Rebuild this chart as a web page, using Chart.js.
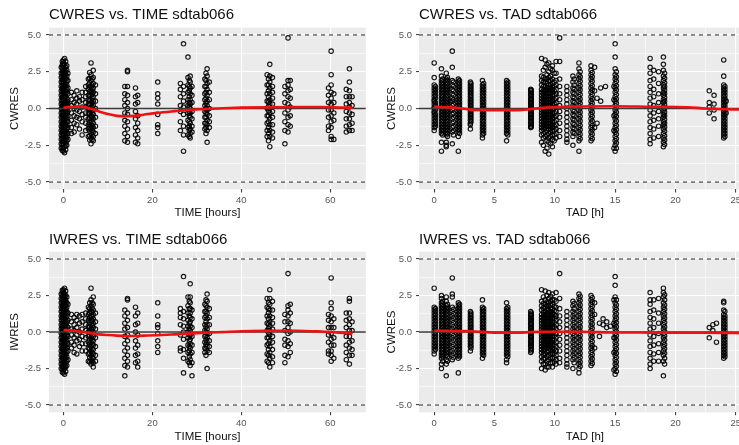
<!DOCTYPE html>
<html>
<head>
<meta charset="utf-8">
<script src="https://cdn.jsdelivr.net/npm/chart.js@4.4.0/dist/chart.umd.min.js"></script>
<style>
  html, body { margin: 0; padding: 0; background: #fff; overflow: hidden; }
  #wrap { position: relative; width: 739px; height: 445px; overflow: hidden; }
  canvas { position: absolute; }
</style>
</head>
<body>
<div id="wrap">
  <canvas id="cwresTimeChart" width="371" height="222" style="left:0;top:0"></canvas>
  <canvas id="cwresTadChart" width="385" height="222" style="left:371px;top:0"></canvas>
  <canvas id="iwresTimeChart" width="371" height="223" style="left:0;top:222px"></canvas>
  <canvas id="iwresTadChart" width="385" height="223" style="left:371px;top:222px"></canvas>
</div>
<script>
const FONT = "'Liberation Sans', Arial, sans-serif";

// axis breaks
const yMajor = [-5, -2.5, 0, 2.5, 5];
const yMinor = [-3.75, -1.25, 1.25, 3.75];
const timeMajor = [0, 20, 40, 60];
const timeMinor = [10, 30, 50];
const tadMajor = [0, 5, 10, 15, 20, 25];
const tadMinor = [2.5, 7.5, 12.5, 17.5, 22.5];
const timeRange = [-3.25, 68];
const tadRange = [-1.26, 26.25];
const yRange = [-5.5, 5.5];
const refLines = [-5, 5];

// CWRES vs TIME: [time, [residuals observed at that time]]
const cwresTime = [
  [-0.5, [2.8,2.4,2.1,1.8,1.5,1.2,0.9,0.6,0.3,0.0,-0.3,-0.6,-0.9,-1.2,-1.5,-1.8,-2.1,-2.4,-2.7]],
  [-0.25, [3.2,2.95,2.75,2.55,2.35,2.15,1.95,1.75,1.55,1.35,1.15,0.95,0.75,0.55,0.35,0.15,-0.05,-0.25,-0.45,-0.65,-0.85,-1.05,-1.25,-1.45,-1.65,-1.85,-2.05,-2.25,-2.45,-2.65,-2.85]],
  [0.0, [3.3,3.1,2.9,2.6,2.4,2.2,2.0,1.8,1.7,1.5,1.3,1.1,1.0,0.8,0.6,0.5,0.3,0.1,0.0,-0.2,-0.3,-0.5,-0.7,-0.8,-1.0,-1.2,-1.3,-1.5,-1.7,-1.8,-2.0,-2.2,-2.4,-2.7,-2.9]],
  [0.25, [3.4,3.0,2.7,2.5,2.3,2.1,1.9,1.6,1.4,1.2,0.9,0.7,0.4,0.2,-0.1,-0.4,-0.6,-0.9,-1.1,-1.4,-1.6,-1.9,-2.1,-2.3,-2.6,-3.0]],
  [0.5, [3.2,2.8,2.5,2.3,2.0,1.7,1.5,1.2,1.0,0.8,0.5,0.3,0.0,-0.2,-0.5,-0.7,-1.0,-1.2,-1.5,-1.7,-2.0,-2.3,-2.5,-2.8]],
  [0.75, [2.9,2.6,2.2,1.9,1.6,1.3,1.1,0.7,0.4,0.2,-0.1,-0.3,-0.6,-0.9,-1.1,-1.4,-1.6,-1.9,-2.2,-2.5]],
  [1.0, [2.4,1.9,1.4,1.0,0.6,0.3,-0.2,-0.5,-0.9,-1.3,-1.7,-2.1]],
  [1.8, [1.1,0.6,0.2,-0.3,-0.8,-1.3,-1.7]],
  [2.4, [0.9,0.4,0.0,-0.5,-1.0,-1.6]],
  [3.0, [1.2,0.7,0.3,-0.1,-0.6,-1.1]],
  [3.6, [0.8,0.5,-0.2,-0.7,-1.4]],
  [4.2, [1.1,0.6,0.1,-0.4,-0.9,-1.8]],
  [5.0, [1.5,1.1,0.8,0.4,0.1,-0.3,-0.6,-1.0,-1.5]],
  [5.6, [2.0,1.6,1.3,0.9,0.6,0.3,0.0,-0.3,-0.7,-1.1,-1.4,-1.9]],
  [5.9, [2.45,2.05,1.75,1.45,1.15,0.85,0.55,0.25,-0.05,-0.35,-0.65,-0.95,-1.25,-1.55,-1.85,-2.15]],
  [6.2, [3.1,2.3,1.9,1.5,1.2,0.9,0.6,0.3,0.0,-0.2,-0.5,-0.8,-1.1,-1.4,-1.7,-2.0,-2.4]],
  [6.45, [2.0,1.6,1.3,1.0,0.7,0.4,0.1,-0.3,-0.6,-0.9,-1.2,-1.5,-1.8,-2.1]],
  [6.7, [2.6,2.1,1.7,1.4,1.1,0.8,0.5,0.2,-0.1,-0.4,-0.7,-1.0,-1.3,-1.6,-1.9,-2.2]],
  [7.2, [1.6,1.0,0.5,0.0,-0.6,-1.2,-1.7]],
  [13.8, [1.5,1.0,0.6,0.2,-0.3,-0.8,-1.2,-1.7,-2.2]],
  [14.4, [2.6,2.5,1.5,0.9,0.4,0.0,-0.4,-0.9,-1.4,-1.9,-2.3]],
  [16.2, [1.4,0.8,0.3,-0.2,-0.7,-1.3,-1.8,-2.3]],
  [16.7, [0.9,0.4,-0.5,-1.0,-1.5,-2.0,-2.4]],
  [21.2, [1.8,1.0,0.7,0.3,-0.4,-1.1,-1.3,-1.7]],
  [26.3, [1.7,1.3,0.8,0.2,-0.2,-0.9,-1.5]],
  [27.0, [4.4,1.5,1.0,0.5,0.1,-0.4,-1.2,-1.8,-2.9]],
  [28.0, [3.5,2.1,1.6,1.1,0.6,0.2,-0.3,-0.8,-1.3,-1.8]],
  [28.3, [1.9,1.5,1.2,0.8,0.4,0.1,-0.2,-0.5,-0.9,-1.2,-1.5,-1.9]],
  [28.5, [2.2,1.8,1.4,1.0,0.6,0.3,0.0,-0.3,-0.6,-1.0,-1.4,-1.7,-2.0]],
  [28.9, [1.5,0.9,0.4,-0.2,-0.7,-1.2,-1.6]],
  [31.8, [2.0,1.5,1.0,0.6,0.2,-0.2,-0.6,-1.0,-1.4]],
  [32.05, [2.4,1.9,1.5,1.1,0.7,0.35,0.0,-0.3,-0.6,-1.0,-1.3,-1.7]],
  [32.3, [2.7,2.2,1.7,1.3,0.9,0.5,0.2,-0.1,-0.4,-0.8,-1.1,-1.5,-2.3]],
  [32.8, [1.8,1.1,0.6,0.0,-0.5,-0.9,-1.3]],
  [45.8, [2.3,1.6,1.0,0.5,0.0,-0.5,-1.0,-1.5,-1.9]],
  [46.1, [2.0,1.6,1.2,0.8,0.45,0.15,-0.15,-0.5,-0.9,-1.3,-1.7,-2.2]],
  [46.4, [3.0,2.2,1.8,1.4,1.0,0.6,0.3,0.0,-0.3,-0.7,-1.1,-1.5,-1.9,-2.6]],
  [47.0, [2.1,1.5,1.1,0.7,0.3,-0.2,-0.6,-1.1,-1.6,-2.0]],
  [49.8, [1.5,1.0,0.4,-0.3,-0.9,-1.5,-2.4]],
  [50.5, [4.8,1.9,1.6,1.2,0.8,0.3,-0.1,-0.6,-1.1,-1.6]],
  [51.0, [1.9,1.3,0.7,0.1,-0.5,-1.2]],
  [59.6, [1.4,0.9,0.4,-0.1,-0.6,-1.2,-1.5]],
  [60.2, [3.9,2.3,1.6,1.1,0.7,0.3,-0.1,-0.5,-0.9,-1.3,-1.9,-2.1]],
  [60.8, [1.0,0.4,-0.3,-0.8,-2.1]],
  [63.6, [1.3,0.8,0.3,-0.2,-0.7,-1.2,-1.6]],
  [64.3, [2.7,1.8,1.2,0.8,0.4,0.1,-0.3,-0.7,-1.1,-1.5]],
  [64.9, [0.8,0.2,-0.4,-1.0,-1.5]]
];

// CWRES vs TAD
const cwresTad = [
  [0.0, [3.1,2.1,1.6,1.4,1.2,1.0,0.8,0.6,0.5,0.3,0.1,0.0,-0.2,-0.3,-0.5,-0.7,-0.9,-1.1,-1.3,-1.5]],
  [0.1, [1.5,1.3,1.1,0.9,0.7,0.4,0.2,-0.1,-0.4,-0.6,-0.8,-1.0,-1.2]],
  [0.6, [2.7,2.2,1.9,1.7,1.5,1.3,1.1,0.9,0.7,0.5,0.3,0.1,-0.1,-0.3,-0.5,-0.7,-0.9,-1.1,-1.3,-1.5,-1.7,-2.3,-2.9]],
  [0.7, [2.0,1.8,1.6,1.4,1.2,1.0,0.8,0.6,0.4,0.2,0.0,-0.2,-0.4,-0.6,-0.8,-1.0,-1.2,-1.4,-1.6,-1.8]],
  [1.0, [2.4,2.0,1.8,1.6,1.4,1.2,1.0,0.8,0.6,0.4,0.2,0.0,-0.2,-0.4,-0.6,-0.8,-1.0,-1.2,-1.4,-1.6,-1.8,-2.3,-2.5,-2.6]],
  [1.1, [2.1,1.9,1.7,1.5,1.3,1.1,0.9,0.7,0.5,0.3,0.1,-0.1,-0.3,-0.5,-0.7,-0.9,-1.1,-1.3,-1.5,-1.7,-1.9]],
  [1.5, [3.9,2.8,1.9,1.6,1.3,1.0,0.7,0.5,0.2,-0.1,-0.4,-0.7,-1.0,-1.3,-1.6,-2.4]],
  [1.6, [1.8,1.5,1.2,0.9,0.6,0.3,0.0,-0.3,-0.6,-0.9,-1.2,-1.5,-1.8]],
  [2.0, [2.0,1.8,1.6,1.4,1.2,1.0,0.8,0.6,0.4,0.2,0.0,-0.2,-0.4,-0.6,-0.8,-1.0,-1.2,-1.4,-1.6,-1.9,-2.9]],
  [2.1, [1.9,1.7,1.5,1.3,1.1,0.9,0.7,0.5,0.3,0.1,-0.1,-0.3,-0.5,-0.7,-0.9,-1.1,-1.3,-1.5,-1.7]],
  [3.0, [1.8,1.6,1.4,1.2,1.0,0.8,0.6,0.4,0.2,0.0,-0.2,-0.4,-0.6,-0.8,-1.0,-1.1,-1.4]],
  [3.05, [1.7,1.5,1.3,1.1,0.9,0.7,0.5,0.3,0.1,-0.1,-0.3,-0.5,-0.7,-0.9]],
  [4.0, [1.9,1.6,1.4,1.2,1.0,0.8,0.6,0.4,0.2,0.0,-0.2,-0.4,-0.6,-0.8,-1.0,-1.2,-1.4,-1.6,-1.8,-2.0]],
  [4.1, [1.7,1.5,1.3,1.1,0.9,0.7,0.5,0.3,0.1,-0.1,-0.3,-0.5,-0.7,-0.9,-1.1,-1.3,-1.5,-1.7]],
  [6.0, [1.9,1.7,1.5,1.3,1.1,0.9,0.7,0.5,0.3,0.1,-0.1,-0.3,-0.5,-0.7,-0.9,-1.1,-1.3,-1.5,-1.7,-2.2]],
  [6.1, [1.8,1.6,1.4,1.2,1.0,0.8,0.6,0.4,0.2,0.0,-0.2,-0.4,-0.6,-0.8,-1.0,-1.2,-1.4,-1.6,-1.8]],
  [8.0, [1.3,1.2,1.0,0.9,0.7,0.6,0.4,0.3,0.1,0.0,-0.1,-0.3,-0.4,-0.6,-0.7,-0.9,-1.0,-1.2,-1.3]],
  [8.05, [1.25,1.1,0.95,0.8,0.65,0.5,0.35,0.2,0.05,-0.05,-0.2,-0.35,-0.5,-0.65,-0.8,-0.95,-1.1,-1.25]],
  [8.9, [3.4,2.2,1.9,1.6,1.3,1.1,0.9,0.7,0.5,0.3,0.1,-0.1,-0.3,-0.5,-0.7,-0.9,-1.1,-1.3,-1.5,-1.8,-2.3]],
  [9.05, [2.6,2.1,1.8,1.5,1.2,1.0,0.8,0.6,0.4,0.2,0.0,-0.2,-0.4,-0.6,-0.8,-1.0,-1.2,-1.4,-1.7,-2.0,-2.5]],
  [9.2, [3.3,2.8,2.0,1.8,1.5,1.3,1.1,0.9,0.7,0.5,0.3,0.1,-0.1,-0.3,-0.5,-0.7,-0.9,-1.1,-1.3,-1.6,-1.9,-2.9]],
  [9.35, [3.0,2.3,2.0,1.7,1.4,1.2,1.0,0.8,0.6,0.4,0.2,0.0,-0.2,-0.4,-0.6,-0.8,-1.0,-1.2,-1.5,-1.8,-2.2,-2.7]],
  [9.5, [3.1,2.5,2.1,1.9,1.6,1.4,1.2,1.0,0.8,0.6,0.4,0.2,0.0,-0.2,-0.4,-0.6,-0.8,-1.0,-1.2,-1.4,-1.7,-2.0,-2.3,-3.1]],
  [9.65, [2.7,2.2,1.9,1.6,1.4,1.2,1.0,0.8,0.6,0.4,0.2,0.0,-0.2,-0.4,-0.6,-0.8,-1.0,-1.2,-1.4,-1.6,-1.9,-2.4]],
  [9.8, [2.9,2.6,2.0,1.7,1.5,1.3,1.1,0.9,0.7,0.5,0.3,0.1,-0.1,-0.3,-0.5,-0.7,-0.9,-1.1,-1.3,-1.5,-1.8,-2.1,-2.6]],
  [9.95, [2.4,1.8,1.5,1.2,0.9,0.6,0.3,0.0,-0.3,-0.6,-0.9,-1.2,-1.5,-1.8,-2.2]],
  [10.1, [3.2,2.4,1.9,1.6,1.3,1.0,0.7,0.4,0.1,-0.2,-0.5,-0.8,-1.1,-1.4,-1.7,-2.0]],
  [10.4, [4.8,3.2,2.0,1.5,1.0,0.6,0.2,-0.2,-0.6,-1.0,-1.5,-1.9]],
  [11.0, [1.5,1.2,0.9,0.6,0.3,0.0,-0.3,-0.6,-0.9,-1.2,-1.5,-1.8,-2.1,-2.3]],
  [11.5, [2.2,1.8,1.4,1.1,0.8,0.5,0.2,-0.1,-0.4,-0.7,-1.0,-1.3,-1.6,-1.9,-2.5]],
  [11.6, [2.0,1.6,1.3,1.0,0.7,0.4,0.1,-0.2,-0.5,-0.8,-1.1,-1.4,-1.7]],
  [12.0, [3.1,2.7,2.3,2.0,1.7,1.4,1.1,0.8,0.5,0.2,-0.1,-0.4,-0.7,-1.0,-1.3,-1.6,-1.9,-2.2,-2.9]],
  [12.1, [2.5,2.15,1.85,1.55,1.25,0.95,0.65,0.35,0.05,-0.25,-0.55,-0.85,-1.15,-1.45,-1.75,-2.05]],
  [13.0, [2.9,2.6,2.3,2.0,1.7,1.4,1.1,0.8,0.5,0.2,-0.1,-0.4,-0.7,-1.0,-1.3,-1.6,-1.9,-2.2]],
  [13.1, [2.45,2.15,1.85,1.55,1.25,0.95,0.65,0.35,0.05,-0.25,-0.55,-0.85,-1.15,-1.45,-1.75,-2.05]],
  [13.3, [2.8,1.2,-1.3]],
  [13.5, [0.7,-1.0]],
  [13.8, [1.4,0.5]],
  [14.2, [1.5]],
  [14.9, [1.5,0.6,-0.5,-1.5,-2.7]],
  [15.0, [4.4,3.5,2.7,2.3,2.0,1.7,1.4,1.1,0.8,0.5,0.2,-0.1,-0.4,-0.7,-1.0,-1.3,-1.6,-1.9,-2.2,-2.5,-2.9]],
  [15.1, [2.5,2.15,1.85,1.55,1.25,0.95,0.65,0.35,0.05,-0.25,-0.55,-0.85,-1.15,-1.45,-1.75,-2.05,-2.35,-2.7]],
  [17.9, [3.4,2.8,2.4,1.9,1.5,1.1,0.7,0.3,-0.1,-0.5,-0.9,-1.3,-1.7,-2.1,-2.4]],
  [18.2, [2.6,2.0,1.3,0.8,0.2,-0.3,-0.8,-1.4,-2.0]],
  [18.6, [2.5,1.7,1.0,0.4,-0.2,-0.7,-1.2,-1.9]],
  [19.0, [3.5,3.0,2.6,2.2,1.9,1.6,1.4,1.1,0.9,0.6,0.4,0.1,-0.1,-0.4,-0.6,-0.9,-1.1,-1.4,-1.7,-2.0,-2.3,-2.6]],
  [19.1, [2.4,2.05,1.75,1.5,1.25,1.0,0.75,0.5,0.25,0.0,-0.25,-0.5,-0.75,-1.0,-1.25,-1.55,-1.85,-2.15,-2.45]],
  [22.8, [1.2,0.4,0.1,-0.3]],
  [23.2, [0.9,0.3,-0.1,-0.7]],
  [24.0, [3.3,2.2,1.6,1.4,1.2,1.0,0.8,0.6,0.4,0.2,0.0,-0.2,-0.4,-0.6,-0.8,-1.0,-1.2,-1.4,-1.6,-1.8,-2.0]],
  [24.1, [1.5,1.3,1.1,0.9,0.7,0.5,0.3,0.1,-0.1,-0.3,-0.5,-0.7,-0.9,-1.1,-1.3,-1.5,-1.7,-1.9]],
  [24.2, [0.5,-0.3]]
];

// IWRES vs TIME
const iwresTime = [
  [-0.5, [2.6,2.3,2.0,1.7,1.4,1.1,0.8,0.5,0.2,-0.1,-0.4,-0.7,-1.0,-1.3,-1.6,-1.9,-2.2,-2.5]],
  [-0.25, [2.85,2.6,2.4,2.2,2.0,1.8,1.6,1.4,1.2,1.0,0.8,0.6,0.4,0.25,0.05,-0.15,-0.35,-0.55,-0.75,-0.95,-1.15,-1.35,-1.55,-1.75,-1.95,-2.15,-2.35,-2.55,-2.75]],
  [0.0, [2.9,2.7,2.5,2.3,2.1,1.9,1.7,1.5,1.3,1.1,0.9,0.7,0.5,0.3,0.2,0.0,-0.2,-0.4,-0.6,-0.8,-1.0,-1.2,-1.4,-1.6,-1.8,-2.0,-2.2,-2.4,-2.6,-2.8]],
  [0.25, [3.0,2.6,2.4,2.2,2.0,1.8,1.6,1.4,1.1,0.8,0.6,0.4,0.1,-0.1,-0.3,-0.5,-0.7,-0.9,-1.1,-1.3,-1.5,-1.7,-1.9,-2.1,-2.3,-2.5,-2.9]],
  [0.5, [2.8,2.5,2.2,1.9,1.6,1.3,1.0,0.8,0.5,0.2,-0.1,-0.4,-0.6,-0.9,-1.2,-1.5,-1.8,-2.1,-2.4,-2.7]],
  [0.75, [2.4,2.0,1.7,1.4,1.1,0.7,0.4,0.1,-0.2,-0.5,-0.8,-1.1,-1.4,-1.7,-2.0,-2.3]],
  [1.0, [1.9,1.3,0.8,0.3,-0.3,-0.8,-1.3,-1.9]],
  [1.8, [1.2,0.7,0.2,-0.2,-0.7,-1.1]],
  [2.4, [1.0,0.5,0.1,-0.4,-0.9,-1.4]],
  [3.0, [1.2,0.8,0.3,-0.2,-0.6,-1.5]],
  [3.6, [1.1,0.6,0.0,-0.5,-1.0]],
  [4.2, [1.2,0.7,0.2,-0.3,-0.8,-1.3]],
  [5.0, [1.3,0.9,0.5,0.1,-0.4,-0.8,-1.3]],
  [5.6, [1.7,1.2,0.8,0.4,0.0,-0.3,-0.7,-1.1,-1.5,-2.0]],
  [5.9, [2.0,1.6,1.3,1.0,0.65,0.35,0.05,-0.25,-0.55,-0.85,-1.15,-1.45,-1.75,-2.05]],
  [6.2, [3.0,2.2,1.8,1.4,1.1,0.8,0.5,0.2,-0.1,-0.4,-0.7,-1.0,-1.3,-1.6,-1.9,-2.2]],
  [6.45, [2.0,1.65,1.35,1.05,0.75,0.45,0.15,-0.25,-0.55,-0.85,-1.15,-1.45,-1.75,-2.0]],
  [6.7, [2.4,1.9,1.5,1.2,0.9,0.6,0.3,0.0,-0.3,-0.6,-0.9,-1.2,-1.5,-1.8,-2.1,-2.4]],
  [7.2, [1.3,0.7,0.2,-0.4,-1.0,-1.6,-2.0]],
  [13.8, [1.5,1.1,0.6,0.2,-0.3,-0.8,-1.3,-1.8,-2.3,-3.0]],
  [14.4, [2.3,2.2,1.3,0.8,0.3,-0.2,-0.6,-1.1,-1.6,-2.0,-2.4]],
  [16.2, [1.7,1.1,0.5,0.0,-0.6,-1.1,-1.6,-2.1]],
  [16.7, [1.3,0.6,-0.2,-0.9,-1.5,-2.0,-2.4]],
  [21.2, [2.0,1.1,0.5,0.3,-0.1,-0.6,-1.0,-1.4]],
  [26.3, [1.6,1.3,1.0,0.5,-0.2,-1.1,-1.3]],
  [27.0, [3.8,1.4,0.9,0.4,0.0,-0.5,-1.2,-1.8,-2.8]],
  [28.0, [2.4,1.8,1.3,0.8,0.4,0.0,-0.4,-0.9,-1.4,-2.0]],
  [28.3, [2.1,1.6,1.1,0.6,0.2,-0.2,-0.6,-1.0,-1.3,-1.7,-2.1]],
  [28.5, [3.3,2.4,2.0,1.6,1.3,1.0,0.7,0.4,0.1,-0.2,-0.5,-0.8,-1.1,-1.5,-1.9,-2.3]],
  [28.9, [1.5,0.9,0.3,-0.3,-0.9,-1.4,-2.1,-3.0]],
  [31.8, [1.9,1.4,1.0,0.5,0.1,-0.3,-0.7,-1.1,-1.4]],
  [32.05, [2.2,1.8,1.4,1.1,0.7,0.35,0.0,-0.25,-0.55,-0.85,-1.15,-1.6]],
  [32.3, [2.6,2.1,1.7,1.3,0.9,0.5,0.2,-0.1,-0.4,-0.7,-1.0,-1.3,-2.5]],
  [32.8, [1.6,1.0,0.5,-0.1,-0.6,-1.0,-1.4]],
  [45.8, [2.3,1.7,1.1,0.6,0.1,-0.4,-0.9,-1.5,-2.0]],
  [46.1, [2.0,1.6,1.3,0.9,0.55,0.25,-0.05,-0.4,-0.8,-1.2,-1.6,-2.1]],
  [46.4, [2.9,2.3,1.9,1.5,1.1,0.7,0.4,0.1,-0.2,-0.6,-1.0,-1.4,-1.8,-2.4]],
  [47.0, [2.1,1.5,1.0,0.6,0.2,-0.3,-0.7,-1.2,-1.7,-2.1]],
  [49.8, [1.2,0.7,0.1,-0.5,-0.9,-1.6,-2.1]],
  [50.5, [4.0,1.8,1.5,1.1,0.7,0.3,-0.1,-0.6,-1.0,-1.7]],
  [51.0, [1.9,1.3,0.6,0.0,-0.8,-1.4]],
  [59.6, [1.2,0.8,0.3,-0.2,-0.7,-1.3,-1.5]],
  [60.2, [3.7,2.0,1.6,1.1,0.7,0.3,-0.1,-0.5,-0.9,-1.3,-1.6,-2.0]],
  [60.8, [0.9,0.3,-0.4,-0.9,-1.8]],
  [63.6, [1.3,0.8,0.3,-0.3,-0.9,-1.4,-1.9]],
  [64.3, [2.3,2.1,1.3,0.9,0.5,0.1,-0.3,-0.7,-1.1,-1.6,-2.2]],
  [64.9, [0.7,0.1,-0.6,-1.2,-1.6]]
];

// IWRES vs TAD
const iwresTad = [
  [0.0, [3.0,1.7,1.5,1.3,1.1,0.9,0.7,0.5,0.3,0.1,-0.1,-0.3,-0.5,-0.7,-0.9,-1.1,-1.3,-1.5]],
  [0.1, [1.6,1.4,1.2,1.0,0.8,0.6,0.4,0.2,0.0,-0.2,-0.4,-0.6,-0.8,-1.0,-1.2]],
  [0.6, [2.5,2.3,2.0,1.8,1.6,1.4,1.2,1.0,0.8,0.6,0.4,0.2,0.0,-0.2,-0.4,-0.6,-0.8,-1.0,-1.2,-1.4,-1.6,-1.8,-2.2,-2.5]],
  [0.7, [2.1,1.9,1.7,1.5,1.3,1.1,0.9,0.7,0.5,0.3,0.1,-0.1,-0.3,-0.5,-0.7,-0.9,-1.1,-1.3,-1.5,-1.7,-2.0]],
  [1.0, [2.4,2.1,1.8,1.6,1.4,1.2,1.0,0.8,0.6,0.4,0.2,0.0,-0.2,-0.4,-0.6,-0.8,-1.0,-1.2,-1.4,-1.6,-1.9,-2.2,-3.0]],
  [1.1, [1.9,1.7,1.5,1.3,1.1,0.9,0.7,0.5,0.3,0.1,-0.1,-0.3,-0.5,-0.7,-0.9,-1.1,-1.3,-1.5,-1.7,-2.0]],
  [1.5, [3.7,2.6,2.4,1.7,1.4,1.1,0.8,0.5,0.2,-0.1,-0.4,-0.7,-1.0,-1.3,-1.6,-1.9]],
  [1.6, [1.55,1.25,0.95,0.65,0.35,0.05,-0.25,-0.55,-0.85,-1.15,-1.45,-1.75]],
  [2.0, [2.0,1.8,1.6,1.4,1.2,1.0,0.8,0.6,0.4,0.2,0.0,-0.2,-0.4,-0.6,-0.8,-1.0,-1.2,-1.4,-1.6,-1.8,-2.8]],
  [2.1, [1.9,1.7,1.5,1.3,1.1,0.9,0.7,0.5,0.3,0.1,-0.1,-0.3,-0.5,-0.7,-0.9,-1.1,-1.3,-1.5,-1.7]],
  [3.0, [1.4,1.2,1.0,0.8,0.6,0.4,0.2,0.0,-0.2,-0.4,-0.6,-0.8,-1.0,-1.3]],
  [3.05, [1.3,1.1,0.9,0.7,0.5,0.3,0.1,-0.1,-0.3,-0.5,-0.7,-0.9,-1.1]],
  [4.0, [2.2,1.7,1.5,1.3,1.1,0.9,0.7,0.5,0.3,0.1,-0.1,-0.3,-0.5,-0.7,-0.9,-1.1,-1.3,-1.5,-1.8]],
  [4.1, [1.6,1.4,1.2,1.0,0.8,0.6,0.4,0.2,0.0,-0.2,-0.4,-0.6,-0.8,-1.0,-1.2,-1.4,-1.6]],
  [6.0, [2.0,1.6,1.4,1.2,1.0,0.8,0.6,0.4,0.2,0.0,-0.2,-0.4,-0.6,-0.8,-1.0,-1.2,-1.4,-1.6,-1.9,-2.1]],
  [6.1, [1.7,1.5,1.3,1.1,0.9,0.7,0.5,0.3,0.1,-0.1,-0.3,-0.5,-0.7,-0.9,-1.1,-1.3,-1.5,-1.7]],
  [8.0, [1.4,1.2,1.1,0.9,0.8,0.6,0.5,0.3,0.2,0.0,-0.1,-0.3,-0.4,-0.6,-0.7,-0.9,-1.0,-1.2,-1.4]],
  [8.05, [1.3,1.15,1.0,0.85,0.7,0.55,0.4,0.25,0.1,-0.05,-0.2,-0.35,-0.5,-0.65,-0.8,-0.95,-1.1,-1.3]],
  [8.9, [2.9,2.1,1.8,1.5,1.2,1.0,0.8,0.6,0.4,0.2,0.0,-0.2,-0.4,-0.6,-0.8,-1.0,-1.2,-1.4,-1.7,-2.0,-2.5]],
  [9.05, [2.4,1.95,1.65,1.35,1.1,0.9,0.7,0.5,0.3,0.1,-0.1,-0.3,-0.5,-0.7,-0.9,-1.1,-1.3,-1.55,-1.85,-2.2]],
  [9.2, [2.8,2.2,1.9,1.7,1.4,1.2,1.0,0.8,0.6,0.4,0.2,0.0,-0.2,-0.4,-0.6,-0.8,-1.0,-1.2,-1.5,-1.8,-2.2,-2.6]],
  [9.35, [2.5,2.05,1.8,1.55,1.3,1.1,0.9,0.7,0.5,0.3,0.1,-0.1,-0.3,-0.5,-0.7,-0.9,-1.1,-1.35,-1.65,-2.0,-2.4]],
  [9.5, [2.7,2.3,2.0,1.8,1.5,1.3,1.1,0.9,0.7,0.5,0.3,0.1,-0.1,-0.3,-0.5,-0.7,-0.9,-1.1,-1.3,-1.6,-1.9,-2.4]],
  [9.65, [2.45,2.1,1.85,1.6,1.4,1.2,1.0,0.8,0.6,0.4,0.2,0.0,-0.2,-0.4,-0.6,-0.8,-1.0,-1.2,-1.45,-1.75,-2.1]],
  [9.8, [2.6,2.2,1.9,1.6,1.3,1.1,0.9,0.7,0.5,0.3,0.1,-0.1,-0.3,-0.5,-0.7,-0.9,-1.1,-1.3,-1.5,-1.8,-2.1,-2.4]],
  [9.95, [2.2,1.75,1.45,1.2,0.95,0.65,0.35,0.05,-0.25,-0.55,-0.85,-1.15,-1.45,-1.75,-2.05]],
  [10.1, [2.7,2.1,1.7,1.4,1.1,0.8,0.5,0.2,-0.1,-0.4,-0.7,-1.0,-1.3,-1.6,-1.9,-2.2]],
  [10.4, [4.0,2.3,1.6,1.1,0.7,0.3,-0.1,-0.5,-0.9,-1.3,-1.8,-2.1]],
  [11.0, [1.4,1.1,0.8,0.5,0.2,-0.1,-0.4,-0.7,-1.0,-1.3,-1.6,-1.9,-2.2,-2.4]],
  [11.5, [2.1,1.8,1.4,1.1,0.8,0.5,0.2,-0.1,-0.4,-0.7,-1.0,-1.3,-1.6,-1.9,-2.5]],
  [11.6, [1.95,1.6,1.25,0.95,0.65,0.35,0.05,-0.25,-0.55,-0.85,-1.15,-1.45,-1.75,-2.1]],
  [12.0, [2.6,2.3,2.0,1.7,1.4,1.1,0.8,0.5,0.2,-0.1,-0.4,-0.7,-1.0,-1.3,-1.6,-1.9,-2.2,-2.5,-2.8]],
  [12.1, [2.45,2.15,1.85,1.55,1.25,0.95,0.65,0.35,0.05,-0.25,-0.55,-0.85,-1.15,-1.45,-1.75,-2.05,-2.35]],
  [13.0, [2.5,2.2,1.9,1.6,1.3,1.0,0.7,0.4,0.1,-0.2,-0.5,-0.8,-1.1,-1.4,-1.7,-2.0,-2.3]],
  [13.1, [2.35,2.05,1.75,1.45,1.15,0.85,0.55,0.25,-0.05,-0.35,-0.65,-0.95,-1.25,-1.55,-1.85,-2.15]],
  [13.3, [2.0,1.2,-1.1]],
  [13.7, [0.6,-0.3]],
  [14.0, [0.9,0.5]],
  [14.3, [0.7,0.3]],
  [14.6, [0.4]],
  [14.9, [2.2,0.6,-0.4,-1.4,-2.6]],
  [15.0, [3.8,3.2,2.4,2.0,1.7,1.4,1.1,0.8,0.5,0.2,-0.1,-0.4,-0.7,-1.0,-1.3,-1.6,-1.9,-2.2,-2.5,-2.9]],
  [15.1, [2.2,1.85,1.55,1.25,0.95,0.65,0.35,0.05,-0.25,-0.55,-0.85,-1.15,-1.45,-1.75,-2.05,-2.35,-2.7]],
  [17.9, [2.7,2.2,1.9,1.4,1.0,0.6,0.2,-0.2,-0.6,-1.0,-1.4,-1.8,-2.2,-2.5]],
  [18.2, [2.2,1.5,0.9,0.3,-0.3,-0.9,-1.5,-2.0]],
  [18.6, [2.3,1.3,0.6,-0.1,-0.8,-1.4,-2.0]],
  [19.0, [3.0,2.7,2.4,2.0,1.7,1.4,1.1,0.8,0.5,0.2,-0.1,-0.4,-0.7,-1.0,-1.3,-1.6,-2.0,-3.0]],
  [19.1, [2.55,2.2,1.85,1.55,1.25,0.95,0.65,0.35,0.05,-0.25,-0.55,-0.85,-1.15,-1.45,-1.8,-2.2]],
  [22.8, [0.3,-0.4]],
  [23.1, [0.5,0.1]],
  [23.4, [0.6,-0.7]],
  [24.0, [2.1,2.0,1.5,1.2,1.0,0.8,0.6,0.4,0.2,0.0,-0.2,-0.4,-0.6,-0.8,-1.0,-1.2,-1.4,-1.6,-1.8]],
  [24.1, [1.4,1.1,0.9,0.7,0.5,0.3,0.1,-0.1,-0.3,-0.5,-0.7,-0.9,-1.1,-1.3,-1.5,-1.7]]
];

// loess trend lines
const smoothTimeX = [0, 2, 4, 6, 8, 10, 12, 14, 16, 18, 21, 25, 28, 32, 36, 40, 46, 52, 58, 62, 65];
const cwresTimeSmooth = [0.07, 0.12, 0.13, 0.0, -0.2, -0.38, -0.5, -0.53, -0.5, -0.42, -0.3, -0.18, -0.1, -0.03, 0.02, 0.06, 0.09, 0.1, 0.1, 0.07, 0.05];
const iwresTimeSmooth = [0.14, 0.1, 0.02, -0.08, -0.16, -0.21, -0.25, -0.27, -0.27, -0.25, -0.22, -0.16, -0.11, -0.05, 0.0, 0.05, 0.08, 0.09, 0.03, -0.04, -0.1];
const smoothTadX = [0, 1, 2, 3, 5, 7, 8, 9, 10, 12, 15, 18, 21, 22.5, 24, 25.5];
const cwresTadSmooth = [0.11, 0.08, 0.03, -0.08, -0.11, -0.11, -0.04, 0.04, 0.1, 0.14, 0.15, 0.12, 0.09, 0.0, -0.05, -0.07];
const iwresTadSmooth = [0.09, 0.08, 0.06, 0.05, -0.04, -0.05, 0.0, 0.01, 0.02, 0.02, -0.03, -0.04, -0.05, -0.05, -0.06, -0.08];

const panelBg = {
  id: 'panelBg',
  beforeDraw(chart) {
    const { ctx, chartArea: a } = chart;
    ctx.save();
    ctx.fillStyle = '#ebebeb';
    ctx.fillRect(a.left, a.top, a.right - a.left, a.bottom - a.top);
    ctx.restore();
  }
};

function axisGrid(major) {
  const isMajor = c => c.tick && major.includes(c.tick.value);
  return {
    color: '#ffffff',
    lineWidth: c => isMajor(c) ? 1.1 : 0.55,
    tickColor: c => isMajor(c) ? '#444' : 'rgba(0,0,0,0)',
    tickLength: 3,
    drawTicks: true
  };
}

function panel(id, p) {
  const [x0, x1] = p.xRange;
  const points = p.cols.flatMap(([x, ys]) => ys.map(y => ({ x, y })));
  const hline = (v, extra) => Object.assign({
    type: 'line',
    data: [{ x: x0, y: v }, { x: x1, y: v }],
    borderColor: '#222',
    borderWidth: 1,
    pointRadius: 0,
    order: 1
  }, extra);

  new Chart(document.getElementById(id), {
    type: 'scatter',
    data: {
      datasets: [
        {
          type: 'line',
          data: p.smoothX.map((x, i) => ({ x, y: p.smoothY[i] })),
          borderColor: '#f01010',
          borderWidth: 2.6,
          pointRadius: 0,
          cubicInterpolationMode: 'monotone',
          order: 0
        },
        hline(0, { borderColor: '#3a3a3a', borderWidth: 1.3 }),
        ...refLines.map(v => hline(v, { borderDash: [4, 4] })),
        {
          data: points,
          pointRadius: 2.2,
          borderWidth: 1.15,
          borderColor: 'rgba(0,0,0,0.9)',
          backgroundColor: 'rgba(0,0,0,0)',
          order: 2
        }
      ]
    },
    options: {
      responsive: false,
      animation: false,
      events: [],
      layout: { padding: { left: 0, right: p.padRight, top: 0, bottom: 0 } },
      plugins: {
        legend: { display: false },
        tooltip: { enabled: false },
        title: {
          display: true,
          text: p.title,
          align: 'start',
          fullSize: false,
          color: '#111',
          font: { family: FONT, size: 15, weight: 'normal' },
          padding: { top: p.titleTop, bottom: p.titleBottom }
        }
      },
      scales: {
        x: {
          type: 'linear',
          min: x0,
          max: x1,
          afterBuildTicks: a => { a.ticks = p.xMajor.concat(p.xMinor).sort((m, n) => m - n).map(v => ({ value: v })); },
          afterFit: a => { a.height = p.xAxisH; },
          border: { display: false },
          grid: axisGrid(p.xMajor),
          ticks: {
            autoSkip: false,
            maxRotation: 0,
            padding: 2.5,
            color: '#555',
            font: { family: FONT, size: 9.5 },
            callback: v => p.xMajor.includes(v) ? String(v) : ''
          },
          title: {
            display: true,
            text: p.xTitle,
            color: '#111',
            font: { family: FONT, size: 11.5 },
            padding: { top: 0, bottom: p.xTitleBottom }
          }
        },
        y: {
          type: 'linear',
          min: yRange[0],
          max: yRange[1],
          afterBuildTicks: a => { a.ticks = yMajor.concat(yMinor).sort((m, n) => m - n).map(v => ({ value: v })); },
          afterFit: a => { a.width = p.yAxisW; },
          border: { display: false },
          grid: axisGrid(yMajor),
          ticks: {
            autoSkip: false,
            padding: p.yTickPad,
            color: '#555',
            font: { family: FONT, size: 9.5 },
            callback: v => yMajor.includes(v) ? v.toFixed(1) : ''
          },
          title: {
            display: true,
            text: p.yTitle,
            color: '#111',
            font: { family: FONT, size: 11.5 },
            padding: { top: p.yTitlePad, bottom: 0 }
          }
        }
      }
    },
    plugins: [panelBg]
  });
}

const timeAxis = { xRange: timeRange, xMajor: timeMajor, xMinor: timeMinor, xTitle: 'TIME [hours]', smoothX: smoothTimeX, yAxisW: 49, yTickPad: 5, yTitlePad: 8, padRight: 0 };
const tadAxis = { xRange: tadRange, xMajor: tadMajor, xMinor: tadMinor, xTitle: 'TAD [h]', smoothX: smoothTadX, yAxisW: 48, yTickPad: 4, yTitlePad: 14, padRight: 3.5 };
const topRow = { titleTop: 6, titleBottom: 3.6, xAxisH: 32.6, xTitleBottom: 2.4 };
const bottomRow = { titleTop: 9, titleBottom: 2.7, xAxisH: 32.7, xTitleBottom: 1 };

panel('cwresTimeChart', Object.assign({}, timeAxis, topRow, {
  title: 'CWRES vs. TIME sdtab066', yTitle: 'CWRES', cols: cwresTime, smoothY: cwresTimeSmooth
}));
panel('cwresTadChart', Object.assign({}, tadAxis, topRow, {
  title: 'CWRES vs. TAD sdtab066', yTitle: 'CWRES', cols: cwresTad, smoothY: cwresTadSmooth
}));
panel('iwresTimeChart', Object.assign({}, timeAxis, bottomRow, {
  title: 'IWRES vs. TIME sdtab066', yTitle: 'IWRES', cols: iwresTime, smoothY: iwresTimeSmooth
}));
panel('iwresTadChart', Object.assign({}, tadAxis, bottomRow, {
  title: 'IWRES vs. TAD sdtab066', yTitle: 'CWRES', cols: iwresTad, smoothY: iwresTadSmooth
}));
</script>
</body>
</html>
